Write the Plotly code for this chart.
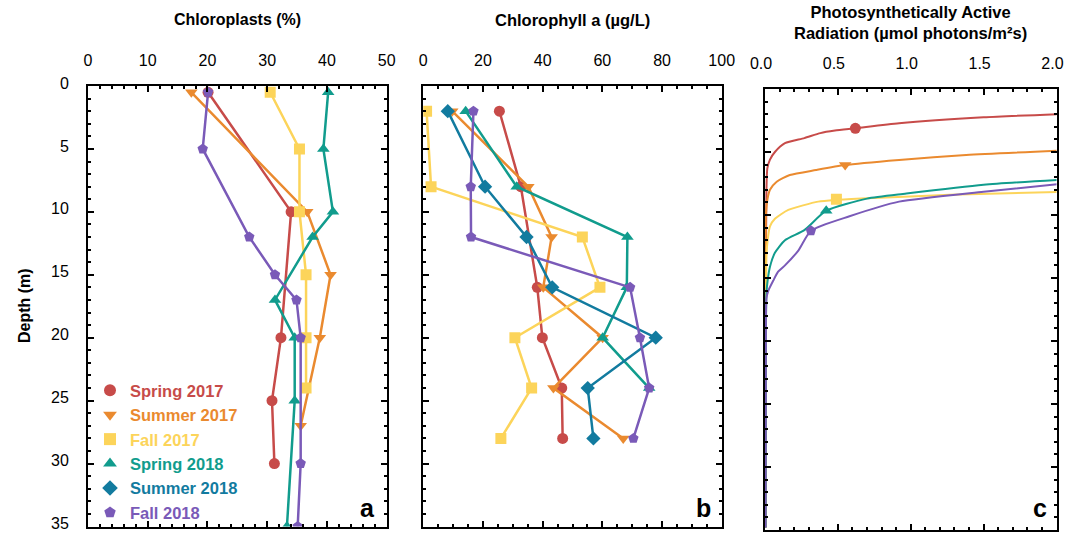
import plotly.graph_objects as go

# ---------------- data ----------------
seasons = ["Spring 2017", "Summer 2017", "Fall 2017", "Spring 2018", "Summer 2018", "Fall 2018"]
colors = ["#C74B49", "#EA8A2F", "#FCD45A", "#119C8D", "#127B9F", "#7A5AB8"]
symbols = ["circle", "triangle-down", "square", "triangle-up", "diamond", "pentagon"]

# Panel a: Chloroplasts (%)
a_depth = {
    "Spring 2017": [0.5, 10, 20, 25, 30],
    "Summer 2017": [0.5, 10, 15, 20, 27],
    "Fall 2017": [0.5, 5, 10, 15, 20, 24],
    "Spring 2018": [0.5, 5, 10, 12, 17, 20, 25, 35],
    "Fall 2018": [0.5, 5, 12, 15, 17, 20, 30, 35],
}
a_vals = {
    "Spring 2017": [20.1, 34.0, 32.3, 30.8, 31.2],
    "Summer 2017": [17.3, 36.7, 40.6, 38.8, 35.6],
    "Fall 2017": [30.5, 35.4, 35.4, 36.5, 36.5, 36.5],
    "Spring 2018": [40.2, 39.4, 41.0, 37.6, 31.3, 34.6, 34.6, 33.3],
    "Fall 2018": [20.1, 19.2, 27.0, 31.3, 34.9, 35.6, 35.6, 35.1],
}

# Panel b: Chlorophyll a (ug/L)
b_depth = {
    "Spring 2017": [2, 8, 16, 20, 24, 28],
    "Summer 2017": [2, 8, 12, 16, 20, 24, 28],
    "Fall 2017": [2, 8, 12, 16, 20, 24, 28],
    "Spring 2018": [2, 8, 12, 16, 20, 24],
    "Summer 2018": [2, 8, 12, 16, 20, 24, 28],
    "Fall 2018": [2, 8, 12, 16, 20, 24, 28],
}
b_vals = {
    "Spring 2017": [25.5, 32.7, 38.2, 39.9, 46.4, 46.7],
    "Summer 2017": [9.7, 35.2, 43.0, 40.2, 60.1, 43.6, 67.0],
    "Fall 2017": [1.1, 2.6, 53.3, 59.2, 30.7, 36.3, 26.0],
    "Spring 2018": [14.2, 31.3, 68.4, 68.2, 60.1, 75.7],
    "Summer 2018": [8.2, 20.7, 34.6, 43.2, 77.9, 55.1, 57.0],
    "Fall 2018": [16.8, 15.9, 16.0, 69.3, 72.6, 75.7, 70.4],
}

# Panel c: PAR profiles
c_par = {
    "Spring 2017": [2.1, 1.50, 0.92, 0.62, 0.48, 0.38, 0.27, 0.137, 0.068, 0.034, 0.016, 0.010, 0.006, 0.004],
    "Summer 2017": [2.1, 1.38, 0.92, 0.55, 0.35, 0.17, 0.08, 0.034, 0.023, 0.007, 0.005, 0.004],
    "Fall 2017": [2.1, 1.27, 0.70, 0.49, 0.365, 0.16, 0.068, 0.034, 0.018, 0.010, 0.006, 0.004],
    "Spring 2018": [2.1, 1.50, 0.97, 0.70, 0.42, 0.27, 0.137, 0.068, 0.034, 0.018, 0.010, 0.006, 0.004],
    "Fall 2018": [2.1, 1.50, 0.92, 0.58, 0.315, 0.23, 0.137, 0.09, 0.057, 0.023, 0.010, 0.006, 0.004],
}
c_depth = {
    "Spring 2017": [1.95, 2.25, 2.72, 3.12, 3.3, 3.5, 3.9, 4.3, 5.0, 5.6, 6.3, 8.0, 15.0, 34.8],
    "Summer 2017": [4.85, 5.24, 5.63, 6.03, 6.43, 6.83, 7.36, 8.0, 8.4, 9.8, 15.0, 34.8],
    "Fall 2017": [8.15, 8.4, 8.67, 8.8, 8.94, 9.6, 10.3, 10.9, 12.0, 13.3, 18.0, 34.8],
    "Spring 2018": [7.15, 7.6, 8.3, 8.7, 9.66, 11.2, 12.0, 13.0, 14.1, 15.2, 16.2, 20.0, 34.8],
    "Fall 2018": [7.45, 8.15, 8.94, 10.1, 11.25, 12.8, 14.0, 14.5, 15.2, 16.0, 16.6, 20.0, 34.8],
}
c_marker_par = {"Spring 2017": 0.62, "Summer 2017": 0.55, "Fall 2017": 0.49, "Spring 2018": 0.42, "Fall 2018": 0.315}
c_marker_depth = {"Spring 2017": 3.12, "Summer 2017": 6.03, "Fall 2017": 8.75, "Spring 2018": 9.66, "Fall 2018": 11.25}

# axis ticks: (range, major step, minor step)
x_axis_a = ([0, 50.001], 10, 2)
x_axis_b = ([0, 100.001], 20, 5)
x_axis_c = ([0, 2.0001], 0.5, 0.1)
y_axis = ([35.001, 0], 5, 1)

# ---------------- figure ----------------
W, H = 1065, 533
FONT = "Liberation Sans, Arial, Helvetica, sans-serif"
fig = go.Figure()
style = dict(zip(seasons, zip(colors, symbols)))
MS = 11

for s in seasons:
    col, sym = style[s]
    if s in a_vals:
        fig.add_trace(go.Scatter(x=a_vals[s], y=a_depth[s], mode="lines+markers",
                                 line=dict(color=col, width=2.5),
                                 marker=dict(symbol=sym, size=MS, color=col),
                                 xaxis="x", yaxis="y", showlegend=False))
for s in seasons:
    col, sym = style[s]
    fig.add_trace(go.Scatter(x=b_vals[s], y=b_depth[s], mode="lines+markers",
                             line=dict(color=col, width=2.5),
                             marker=dict(symbol=sym, size=MS, color=col),
                             xaxis="x2", yaxis="y2", showlegend=False))
for s in seasons:
    if s not in c_par:
        continue
    col, sym = style[s]
    fig.add_trace(go.Scatter(x=c_par[s], y=c_depth[s], mode="lines",
                             line=dict(color=col, width=2, shape="spline", smoothing=0.6),
                             xaxis="x3", yaxis="y3", showlegend=False))
    fig.add_trace(go.Scatter(x=[c_marker_par[s]], y=[c_marker_depth[s]], mode="markers",
                             marker=dict(symbol=sym, size=MS, color=col),
                             xaxis="x3", yaxis="y3", showlegend=False))

# legend entries (markers only, coloured text)
for s in seasons:
    col, sym = style[s]
    fig.add_trace(go.Scatter(x=[None], y=[None], mode="markers",
                             marker=dict(symbol=sym, size=MS, color=col),
                             name=f"<span style='color:{col}'><b>{s}</b></span>",
                             xaxis="x", yaxis="y", showlegend=True))


def common(rng, major, minor):
    return dict(range=rng, tickmode="linear", tick0=0, dtick=major,
                ticks="inside", ticklen=6, tickwidth=1.5, tickcolor="black",
                showline=True, linewidth=2, linecolor="black", mirror="allticks",
                showgrid=False, zeroline=False, automargin=False, ticklabeloverflow="allow",
                tickfont=dict(size=16, color="black", family=FONT),
                minor=dict(dtick=minor, tick0=0, ticks="inside", ticklen=3, tickwidth=1.5,
                           tickcolor="black", showgrid=False))


def xax(domain, spec, anchor, fmt=None, shift=0):
    d = common(*spec)
    d.update(domain=domain, side="top", anchor=anchor, ticklabelstandoff=12, ticklabelshift=shift)
    if fmt:
        d["tickformat"] = fmt
    return d


def yax(domain, anchor, labels=True):
    d = common(*y_axis)
    d.update(domain=domain, anchor=anchor, showticklabels=labels, ticklabelstandoff=14,
             ticklabelshift=3)
    return d


ya_dom = [1 - 526.5 / H, 1 - 86 / H]
yc_dom = [1 - 530 / H, 1 - 89 / H]
fig.update_layout(
    width=W, height=H, margin=dict(l=0, r=0, t=0, b=0, autoexpand=False),
    paper_bgcolor="white", plot_bgcolor="white",
    font=dict(family=FONT, color="black"),
    xaxis=xax([88 / W, 386.7 / W], x_axis_a, "y"),
    yaxis=yax(ya_dom, "x"),
    xaxis2=xax([423.3 / W, 721.7 / W], x_axis_b, "y2"),
    yaxis2=yax(ya_dom, "x2", labels=False),
    xaxis3=xax([765 / W, 1056.5 / W], x_axis_c, "y3", fmt=".1f", shift=-4),
    yaxis3=yax(yc_dom, "x3", labels=False),
    legend=dict(x=90 / W, y=1 - 373 / H, xanchor="left", yanchor="top",
                bgcolor="rgba(0,0,0,0)", font=dict(size=16.5, family=FONT),
                itemsizing="constant", tracegroupgap=0, itemwidth=30),
    showlegend=True,
)

ann = [
    dict(text="<b>Chloroplasts (%)</b>", x=237 / W, y=1 - 20 / H, size=16),
    dict(text="<b>Chlorophyll a (µg/L)</b>", x=572 / W, y=1 - 20 / H, size=16.5),
    dict(text="<b>Photosynthetically Active<br>Radiation (µmol photons/m²s)</b>", x=910 / W, y=1 - 23 / H, size=16.5),
    dict(text="<b>a</b>", x=367 / W, y=1 - 508 / H, size=25),
    dict(text="<b>b</b>", x=703 / W, y=1 - 508 / H, size=25),
    dict(text="<b>c</b>", x=1040 / W, y=1 - 508 / H, size=25),
]
for a in ann:
    fig.add_annotation(text=a["text"], x=a["x"], y=a["y"], xref="paper", yref="paper",
                       showarrow=False, xanchor="center", yanchor="middle",
                       font=dict(size=a["size"], family=FONT, color="black"))
fig.add_annotation(text="<b>Depth (m)</b>", x=24 / W, y=1 - 306 / H, xref="paper", yref="paper",
                   showarrow=False, textangle=-90, xanchor="center", yanchor="middle",
                   font=dict(size=16, family=FONT, color="black"))

fig.write_html("out.html")
